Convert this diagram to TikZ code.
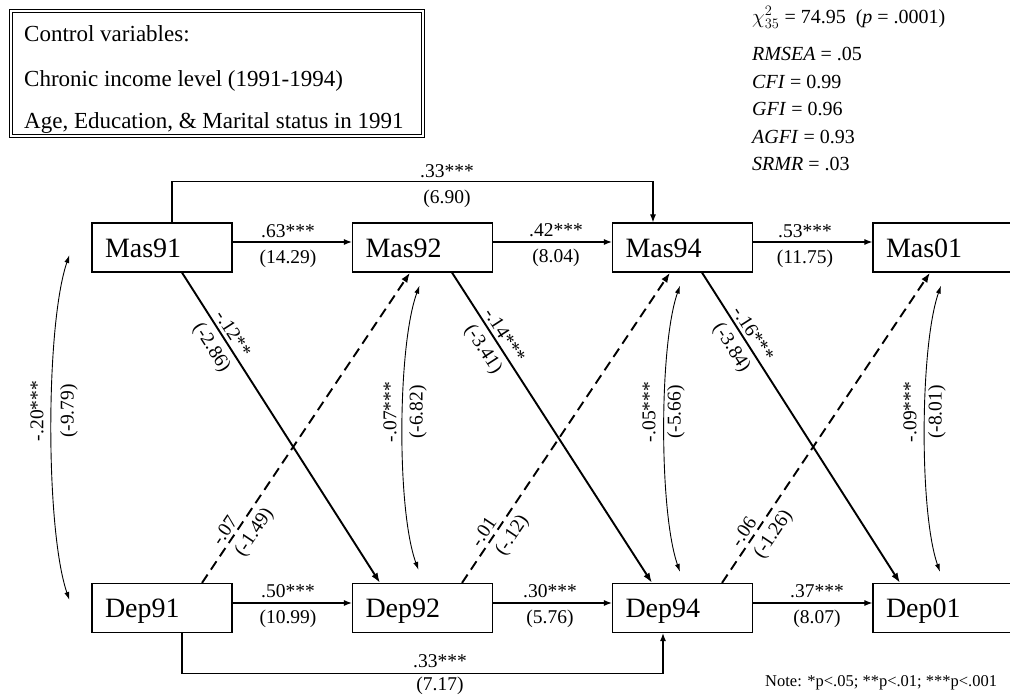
\documentclass[tikz,border=0pt]{standalone}
\usepackage{fontspec}
\setmainfont{Liberation Serif}
\usetikzlibrary{arrows.meta}

\begin{document}
\begin{tikzpicture}[x=1pt, y=-1pt,
  var/.style={draw, line width=1.2pt, text width=114pt, align=left,
    inner xsep=13pt, inner ysep=0pt, minimum height=49pt,
    text height=19pt, text depth=0pt, font=\fontsize{28}{30}\selectfont},
  lab/.style={font=\fontsize{19.5}{21}\selectfont, inner sep=0pt, anchor=base},
  link/.style={line width=1.1pt, -{Latex[length=8pt,width=6pt]}},
  cross/.style={line width=1.9pt, -{Latex[length=10pt,width=7pt]}},
  crossdash/.style={cross, dash pattern=on 10pt off 6pt},
  dlab/.style={font=\fontsize{19.5}{21}\selectfont, sloped, inner sep=1.5pt},
  corr/.style={line width=0.9pt,
    {Latex[length=8pt,width=5pt]}-{Latex[length=8pt,width=5pt]}},
  vlab/.style={font=\fontsize{19.5}{21}\selectfont, rotate=90, inner sep=0pt},
  stat/.style={font=\fontsize{20}{22}\selectfont, anchor=base west, inner sep=0pt},
  ctrl/.style={font=\fontsize{23}{25}\selectfont, anchor=base west, inner sep=0pt},
]
\useasboundingbox (0,0) rectangle (1010,694);
\clip (0,0) rectangle (1010,694);

% control variables box
\draw[line width=1pt, double, double distance=2pt] (11.3,11.3) rectangle (423,136);
\node[ctrl] (ctrl1) at (24,41) {Control variables:};
\node[ctrl] (ctrl2) at (24,86) {Chronic income level (1991-1994)};
\node[ctrl] (ctrl3) at (24,128) {Age, Education, \& Marital status in 1991};

% fit statistics
\node[stat] (chi)   at (752,23)  {$\chi^2_{35}$ = 74.95\ \ (\textit{p} = .0001)};
\node[stat] (rmsea) at (752,60)  {\textit{RMSEA} = .05};
\node[stat] (cfi)   at (752,88)  {\textit{CFI} = 0.99};
\node[stat] (gfi)   at (752,115) {\textit{GFI} = 0.96};
\node[stat] (agfi)  at (752,143) {\textit{AGFI} = 0.93};
\node[stat] (srmr)  at (752,170) {\textit{SRMR} = .03};

% variables
\node[var] (Mas91) at (162,247.5) {Mas91};
\node[var] (Mas92) at (422.5,247.5) {Mas92};
\node[var] (Mas94) at (682.5,247.5) {Mas94};
\node[var] (Mas01) at (943,247.5) {Mas01};
\node[var] (Dep91) at (162,608) {Dep91};
\node[var] (Dep92) at (422.5,608) {Dep92};
\node[var] (Dep94) at (682.5,608) {Dep94};
\node[var] (Dep01) at (943,608) {Dep01};

% stability paths
\draw[link] ([yshift=5.5pt]Mas91.east) -- ([yshift=5.5pt]Mas92.west);
\draw[link] ([yshift=5.5pt]Mas92.east) -- ([yshift=5.5pt]Mas94.west);
\draw[link] ([yshift=5.5pt]Mas94.east) -- ([yshift=5.5pt]Mas01.west);
\draw[link] ([yshift=5pt]Dep91.east) -- ([yshift=5pt]Dep92.west);
\draw[link] ([yshift=5pt]Dep92.east) -- ([yshift=5pt]Dep94.west);
\draw[link] ([yshift=5pt]Dep94.east) -- ([yshift=5pt]Dep01.west);
\node[lab] (m12a) at (288,237) {.63***};
\node[lab] (m12b) at (288,263) {(14.29)};
\node[lab] (m24a) at (556,236) {.42***};
\node[lab] (m24b) at (556,262) {(8.04)};
\node[lab] (m41a) at (805,237) {.53***};
\node[lab] (m41b) at (805,263) {(11.75)};
\node[lab] (d12a) at (288,597) {.50***};
\node[lab] (d12b) at (288,623) {(10.99)};
\node[lab] (d24a) at (550,597) {.30***};
\node[lab] (d24b) at (550,623) {(5.76)};
\node[lab] (d41a) at (817,597) {.37***};
\node[lab] (d41b) at (817,623) {(8.07)};

% lag-2 paths
\draw[link] ([xshift=10pt]Mas91.north) -- ++(0,-41) -| ([xshift=-29.5pt]Mas94.north);
\node[lab] (m14a) at (447,177) {.33***};
\node[lab] (m14b) at (447,203) {(6.90)};
\draw[link] ([xshift=20pt]Dep91.south) -- ++(0,40) -| ([xshift=-19.5pt]Dep94.south);
\node[lab] (d14a) at (440,667) {.33***};
\node[lab] (d14b) at (440,690) {(7.17)};

% cross-lagged paths: masculinity -> depression
\draw[cross] ([xshift=20pt]Mas91.south) --
  node[dlab, pos=0.215, above=1.5pt] (x1a) {-.12**}
  node[dlab, pos=0.215, below=4.5pt] (x1b) {(-2.86)}
  ([xshift=-42.5pt]Dep92.north);
\draw[cross] ([xshift=29.5pt]Mas92.south) --
  node[dlab, pos=0.22, above=1.5pt] (x2a) {-.14***}
  node[dlab, pos=0.22, below=4.5pt] (x2b) {(-3.41)}
  ([xshift=-30.5pt]Dep94.north);
\draw[cross] ([xshift=19.5pt]Mas94.south) --
  node[dlab, pos=0.215, above=1.5pt] (x3a) {-.16***}
  node[dlab, pos=0.215, below=4.5pt] (x3b) {(-3.84)}
  ([xshift=-43pt]Dep01.north);

% cross-lagged paths: depression -> masculinity
\draw[crossdash] ([xshift=40pt]Dep91.north) --
  node[dlab, pos=0.15, above=1.5pt] (y1a) {-.07}
  node[dlab, pos=0.19, below=4.5pt] (y1b) {(-1.49)}
  ([xshift=-12.5pt]Mas92.south);
\draw[crossdash] ([xshift=39.5pt]Dep92.north) --
  node[dlab, pos=0.145, above=1.5pt] (y2a) {-.01}
  node[dlab, pos=0.18, below=4.5pt] (y2b) {(-.12)}
  ([xshift=-12.5pt]Mas94.south);
\draw[crossdash] ([xshift=39.5pt]Dep94.north) --
  node[dlab, pos=0.145, above=1.5pt] (y3a) {-.06}
  node[dlab, pos=0.185, below=4.5pt] (y3b) {(-1.26)}
  ([xshift=-13pt]Mas01.south);

% within-time correlations
\draw[corr] ([xshift=-22pt,yshift=-7.5pt]Mas91.west)
  .. controls +(-24,70) and +(-24,-70) .. ([xshift=-22pt,yshift=8pt]Dep91.west);
\draw[corr] ([xshift=-3pt,yshift=-13pt]Mas92.south)
  .. controls +(-22,60) and +(-22,-60) .. ([xshift=-4pt,yshift=13pt]Dep92.north);
\draw[corr] ([xshift=-2.5pt,yshift=-13pt]Mas94.south)
  .. controls +(-21,60) and +(-21,-60) .. ([xshift=-2.5pt,yshift=11pt]Dep94.north);
\draw[corr] ([xshift=-2pt,yshift=-13pt]Mas01.south)
  .. controls +(-21,60) and +(-21,-60) .. ([xshift=-3pt,yshift=11pt]Dep01.north);
\node[vlab] (r1a) at (37,411)  {-.20***};
\node[vlab] (r1b) at (69,411)  {(-9.79)};
\node[vlab] (r2a) at (390,412) {-.07***};
\node[vlab] (r2b) at (418,412) {(-6.82)};
\node[vlab] (r3a) at (649,412) {-.05***};
\node[vlab] (r3b) at (676,412) {(-5.66)};
\node[vlab] (r4a) at (910,412) {-.09***};
\node[vlab] (r4b) at (937,412) {(-8.01)};

% significance note
\node[anchor=base west, inner sep=0pt, font=\fontsize{16.5}{18}\selectfont] (note)
  at (765,686) {Note: *p<.05; **p<.01; ***p<.001};
\end{tikzpicture}
\end{document}
